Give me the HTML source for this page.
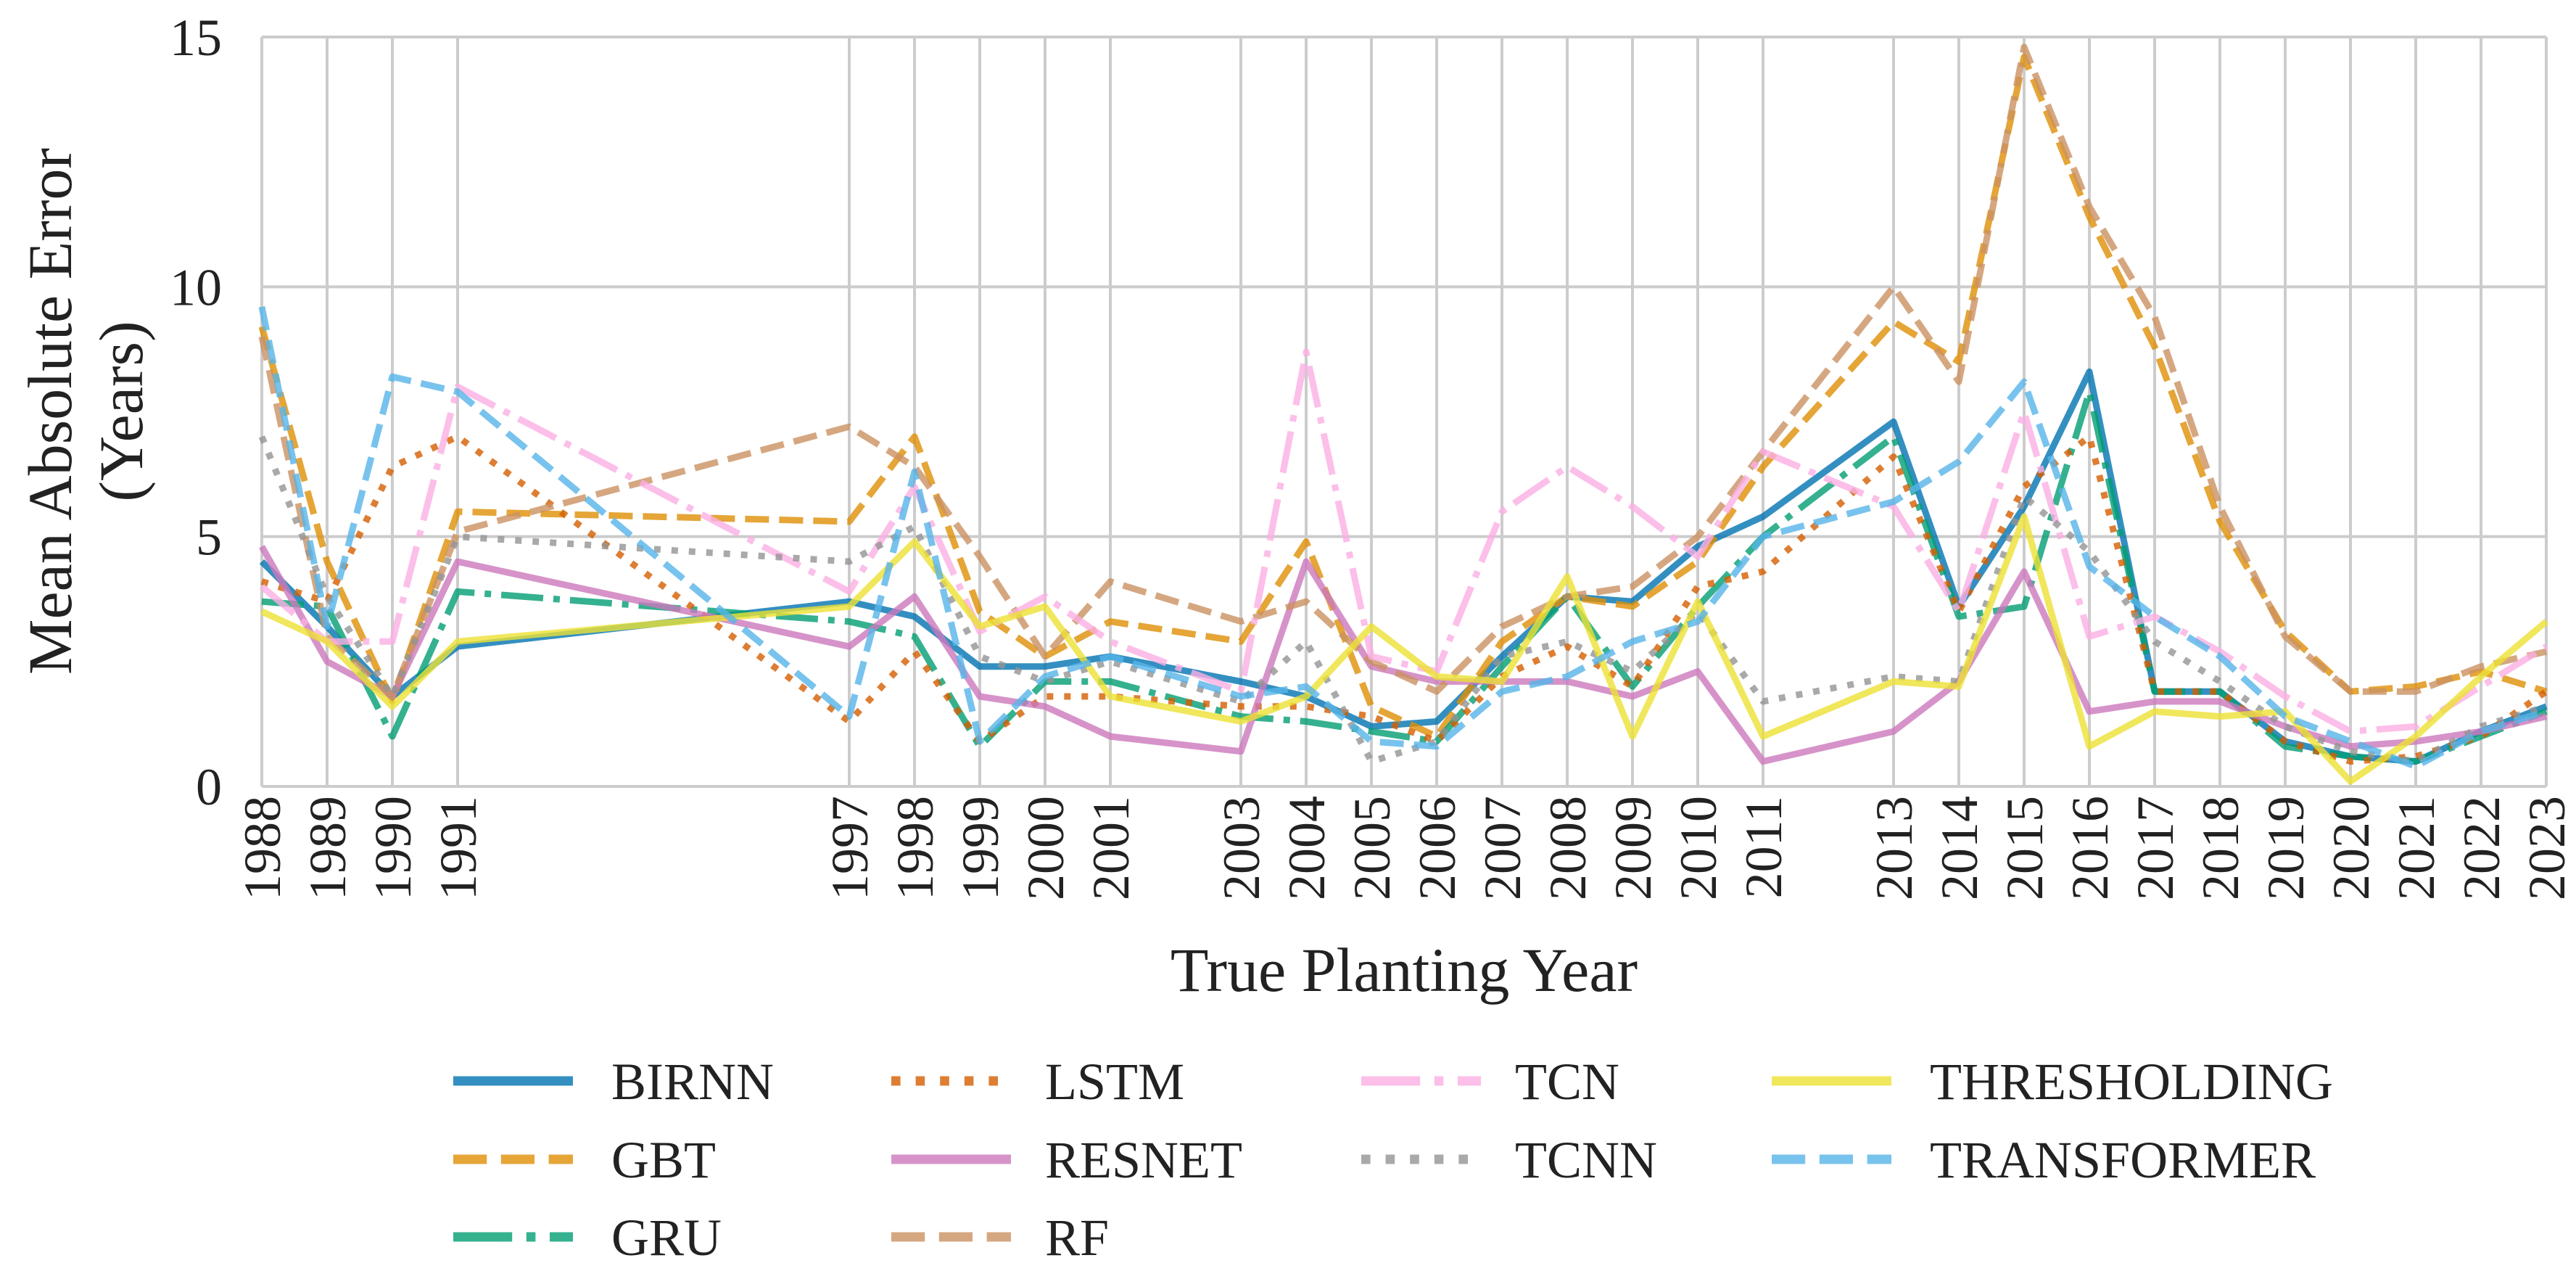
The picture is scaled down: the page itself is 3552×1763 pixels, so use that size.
<!DOCTYPE html>
<html><head><meta charset="utf-8"><style>
html,body{margin:0;padding:0;background:#fff;}
svg{display:block;font-family:"Liberation Serif",serif;}
</style></head><body>
<svg id="chart" width="3552" height="1763" viewBox="0 0 3552 1763" xmlns="http://www.w3.org/2000/svg">
<rect width="3552" height="1763" fill="#fff"/>
<g id="grid"></g>
<g id="yticks"></g>
<g id="xticks"></g>
<g id="series"></g>
<text transform="translate(98,567) rotate(-90)" text-anchor="middle" font-size="86" fill="#222">Mean Absolute Error</text>
<text transform="translate(196,567) rotate(-90)" text-anchor="middle" font-size="86" fill="#222">(Years)</text>
<text x="1936" y="1366" text-anchor="middle" font-size="86" fill="#222">True Planting Year</text>
<g id="legend"></g>
</svg>
<script>
const years = [1988,1989,1990,1991,1997,1998,1999,2000,2001,2003,2004,2005,2006,2007,2008,2009,2010,2011,2013,2014,2015,2016,2017,2018,2019,2020,2021,2022,2023];
const yTicks = [0,5,10,15];
const seriesNames = ["BIRNN","GBT","GRU","LSTM","RESNET","RF","TCN","TCNN","THRESHOLDING","TRANSFORMER"];
const birnn = [4.5,3.2,1.8,2.8,3.7,3.4,2.4,2.4,2.6,2.1,1.8,1.2,1.3,2.6,3.8,3.7,4.8,5.4,7.3,3.6,5.6,8.3,1.9,1.9,0.9,0.6,0.5,1.1,1.6];
const gbt = [9.2,4.5,1.7,5.5,5.3,7.0,3.5,2.6,3.3,2.9,4.9,1.6,1.0,2.9,3.8,3.6,4.5,6.4,9.3,8.5,14.6,11.4,8.8,5.3,3.1,1.9,2.0,2.3,1.9];
const gru = [3.7,3.6,1.0,3.9,3.3,3.0,0.8,2.1,2.1,1.4,1.3,1.1,0.9,2.4,3.8,2.0,3.6,5.0,7.0,3.4,3.6,7.9,1.9,1.9,0.8,0.6,0.5,1.0,1.5];
const lstm = [4.1,3.7,6.4,7.0,1.3,2.7,0.9,1.8,1.8,1.6,1.6,1.4,0.9,2.2,2.8,2.0,4.0,4.3,6.6,3.5,6.0,7.0,1.9,1.9,0.9,0.5,0.6,1.0,1.9];
const resnet = [4.8,2.5,1.8,4.5,2.8,3.8,1.8,1.6,1.0,0.7,4.5,2.4,2.1,2.1,2.1,1.8,2.3,0.5,1.1,2.1,4.3,1.5,1.7,1.7,1.2,0.8,0.9,1.1,1.4];
const rf = [9.0,3.0,1.8,5.1,7.2,6.4,4.6,2.6,4.1,3.3,3.7,2.5,1.9,3.2,3.8,4.0,5.0,6.7,10.0,8.1,14.8,11.6,9.4,5.6,3.0,1.9,1.9,2.4,2.7];
const tcn = [4.0,2.9,2.9,8.0,3.9,6.0,3.1,3.8,2.9,1.9,8.7,2.6,2.3,5.5,6.4,5.6,4.6,6.7,5.6,3.5,7.5,3.0,3.4,2.7,1.8,1.1,1.2,2.0,2.8];
const tcnn = [7.0,3.8,1.8,5.0,4.5,5.2,2.6,2.1,2.5,1.7,2.9,0.5,0.9,2.6,2.9,2.3,3.5,1.7,2.2,2.1,5.8,4.7,2.9,2.1,1.2,0.7,0.5,1.2,1.6];
const thresholding = [3.5,2.9,1.6,2.9,3.6,4.9,3.2,3.6,1.8,1.3,1.8,3.2,2.2,2.1,4.2,1.0,3.7,1.0,2.1,2.0,5.4,0.8,1.5,1.4,1.5,0.1,1.0,2.2,3.3];
const transformer = [9.6,3.2,8.2,7.9,1.4,6.3,0.9,2.2,2.6,1.8,2.0,0.9,0.8,1.9,2.2,2.9,3.3,5.0,5.7,6.5,8.1,4.4,3.4,2.6,1.4,0.9,0.4,1.1,1.5];

const NS="http://www.w3.org/2000/svg";
const X0=361,X1=3511,Y0=1084,Y1=51;
function xs(yr){return X0+(yr-1988)/(2023-1988)*(X1-X0);}
function ys(v){return Y0-(v/15)*(Y0-Y1);}
function mk(tag,attrs,parent){const e=document.createElementNS(NS,tag);for(const k in attrs)e.setAttribute(k,attrs[k]);parent.appendChild(e);return e;}

const grid=document.getElementById('grid');
yTicks.forEach(t=>{
  const l=mk('line',{x1:X0,x2:X1,y1:ys(t),y2:ys(t),stroke:'#cccccc','stroke-width':4},grid);
  
  
  const tx=mk('text',{x:306,y:ys(t)+25,'text-anchor':'end','font-size':72,fill:'#222'},document.getElementById('yticks'));
  tx.textContent=t;
  
  
});
years.forEach(yr=>{
  const l=mk('line',{x1:xs(yr),x2:xs(yr),y1:Y1,y2:Y0,stroke:'#cccccc','stroke-width':4},grid);
  
  
  const tx=mk('text',{transform:`translate(${xs(yr)+25},1097) rotate(-90)`,'text-anchor':'end','font-size':72,fill:'#222'},document.getElementById('xticks'));
  tx.textContent=yr;
  
  
});

const styles=[
 {c:'#0173b2',d:''},
 {c:'#de8f05',d:'33,14'},
 {c:'#029e73',d:'58,14,9,14'},
 {c:'#d55e00',d:'9,15'},
 {c:'#cc78bc',d:''},
 {c:'#ca9161',d:'33,14'},
 {c:'#fbafe4',d:'58,14,9,14'},
 {c:'#949494',d:'9,15'},
 {c:'#ece133',d:''},
 {c:'#56b4e9',d:'33,14'}
];
const data=[birnn,gbt,gru,lstm,resnet,rf,tcn,tcnn,thresholding,transformer];
const sg=document.getElementById('series');
data.forEach((vals,i)=>{
  const pts=vals.map((v,j)=>xs(years[j]).toFixed(1)+','+ys(v).toFixed(1)).join(' ');
  const p=mk('polyline',{points:pts,fill:'none',stroke:styles[i].c,'stroke-width':9,'stroke-opacity':0.8,'stroke-linejoin':'round','stroke-dasharray':styles[i].d||'none'},sg);
  
  
});

const lg=document.getElementById('legend');
const colLine=[625,1229,1877,2443], colText=[843,1441,2089,2661], rowY=[1490,1598,1705];
const legCol=[0,0,0,1,1,1,2,2,3,3], legRow=[0,1,2,0,1,2,0,1,0,1];
seriesNames.forEach((n,i)=>{
  const col=legCol[i], row=legRow[i];
  const g=mk('g',{},lg);
  
  
  mk('line',{x1:colLine[col],x2:colLine[col]+165,y1:rowY[row],y2:rowY[row],stroke:styles[i].c,'stroke-width':13,'stroke-opacity':0.8,'stroke-dasharray':styles[i].d?styles[i].d.split(',').map(v=>v*1.4).join(','):'none'},g);
  const t=mk('text',{x:colText[col],y:rowY[row]+25,'font-size':72,fill:'#222'},g);
  t.textContent=n;
});
</script>
</body></html>
